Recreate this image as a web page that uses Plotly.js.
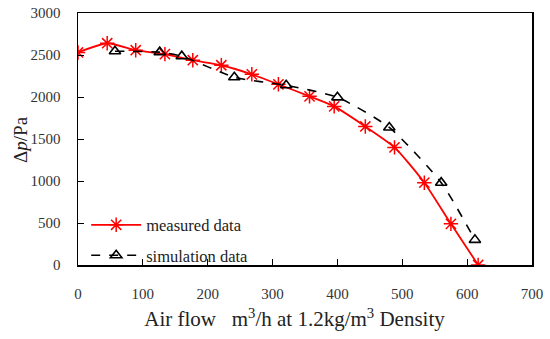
<!DOCTYPE html>
<html><head><meta charset="utf-8">
<script src="https://cdn.plot.ly/plotly-3.0.1.min.js"></script>
<style>html,body{margin:0;padding:0;background:#fff}#chart{width:550px;height:339px}</style>
</head><body><div id="chart"></div>
<script>
const measuredX = [0, 45, 89, 134, 177, 221, 268, 309, 357, 395, 443, 488, 534, 575, 617];
const measuredY = [2530, 2640, 2557, 2510, 2438, 2378, 2270, 2151, 2008, 1888, 1649, 1400, 980, 490, 0];
const simX = [57, 126, 160, 241, 321, 400, 480, 560, 612];
const simY = [2545, 2534, 2486, 2235, 2139, 1996, 1637, 980, 299];
const xTicks = [0, 100, 200, 300, 400, 500, 600, 700];
const yTicks = [0, 500, 1000, 1500, 2000, 2500, 3000];

const font = 'Liberation Serif, DejaVu Serif, serif';
const pad = s => '<span style="color:rgba(0,0,0,0)">' + s + '</span>';
const traces = [
  {x: measuredX, y: measuredY, name: 'measured data', mode: 'lines+markers', legendgroup: 'a',
   line: {color: '#ff0000', width: 1.8, shape: 'spline', smoothing: 0.6},
   marker: {symbol: 'asterisk-open', size: 12, color: '#ff0000', line: {color: '#ff0000', width: 1.5}}},
  {x: simX, y: simY, name: 'simulation data', mode: 'lines+markers', legendgroup: 'b',
   line: {color: '#000000', width: 1.6, dash: 'dash', shape: 'spline', smoothing: 0.6},
   marker: {symbol: 'triangle-up-open', size: 10, color: '#000000', line: {color: '#000000', width: 1.6}}},
  {x: [null], y: [null], yaxis: 'y2', showlegend: false, hoverinfo: 'skip', mode: 'lines'}
];
const layout = {
  width: 550, height: 339,
  margin: {l: 78, r: 18, t: 13, b: 74},
  paper_bgcolor: '#fff', plot_bgcolor: '#fff',
  font: {family: font, size: 14, color: '#333'},
  showlegend: true,
  legend: {x: 0.018, y: -0.03, xanchor: 'left', yanchor: 'bottom', bgcolor: 'rgba(0,0,0,0)',
           font: {family: font, size: 16.5, color: '#222'}, tracegroupgap: 6, itemwidth: 50},
  xaxis: {range: [0, 700], tickvals: xTicks, ticktext: xTicks.map(String),
          showgrid: false, zeroline: false, showline: true, linecolor: '#000', linewidth: 1.5,
          mirror: true, ticks: 'inside', ticklen: 6, tickcolor: '#000', ticklabelstandoff: 14,
          tickfont: {family: font, size: 15, color: '#333'},
          title: {text: 'Air flow   m<sup>3</sup>/h at 1.2kg/m<sup>3</sup> Density' + pad('00'), font: {family: font, size: 21, color: '#222'}, standoff: 11}},
  yaxis: {range: [0, 3000], tickvals: yTicks, ticktext: yTicks.map(String),
          showgrid: false, zeroline: false, showline: true, linecolor: '#000', linewidth: 1.5,
          mirror: true, ticks: 'outside', ticklen: 13, tickcolor: 'rgba(0,0,0,0)',
          tickfont: {family: font, size: 15, color: '#333'}},
  yaxis2: {range: [0, 3000], overlaying: 'y', side: 'left', tickvals: yTicks,
           showticklabels: false, showgrid: false, zeroline: false, showline: false,
           ticks: 'inside', ticklen: 6, tickcolor: '#000', tickwidth: 1},
  annotations: [{text: 'Δ<i>p</i>/Pa', xref: 'paper', yref: 'paper', x: -0.128, y: 0.5,
                 xanchor: 'center', yanchor: 'middle', textangle: -90, showarrow: false,
                 font: {family: font, size: 19, color: '#222'}}]
};
Plotly.newPlot('chart', traces, layout, {displayModeBar: false, staticPlot: true});
</script></body></html>
